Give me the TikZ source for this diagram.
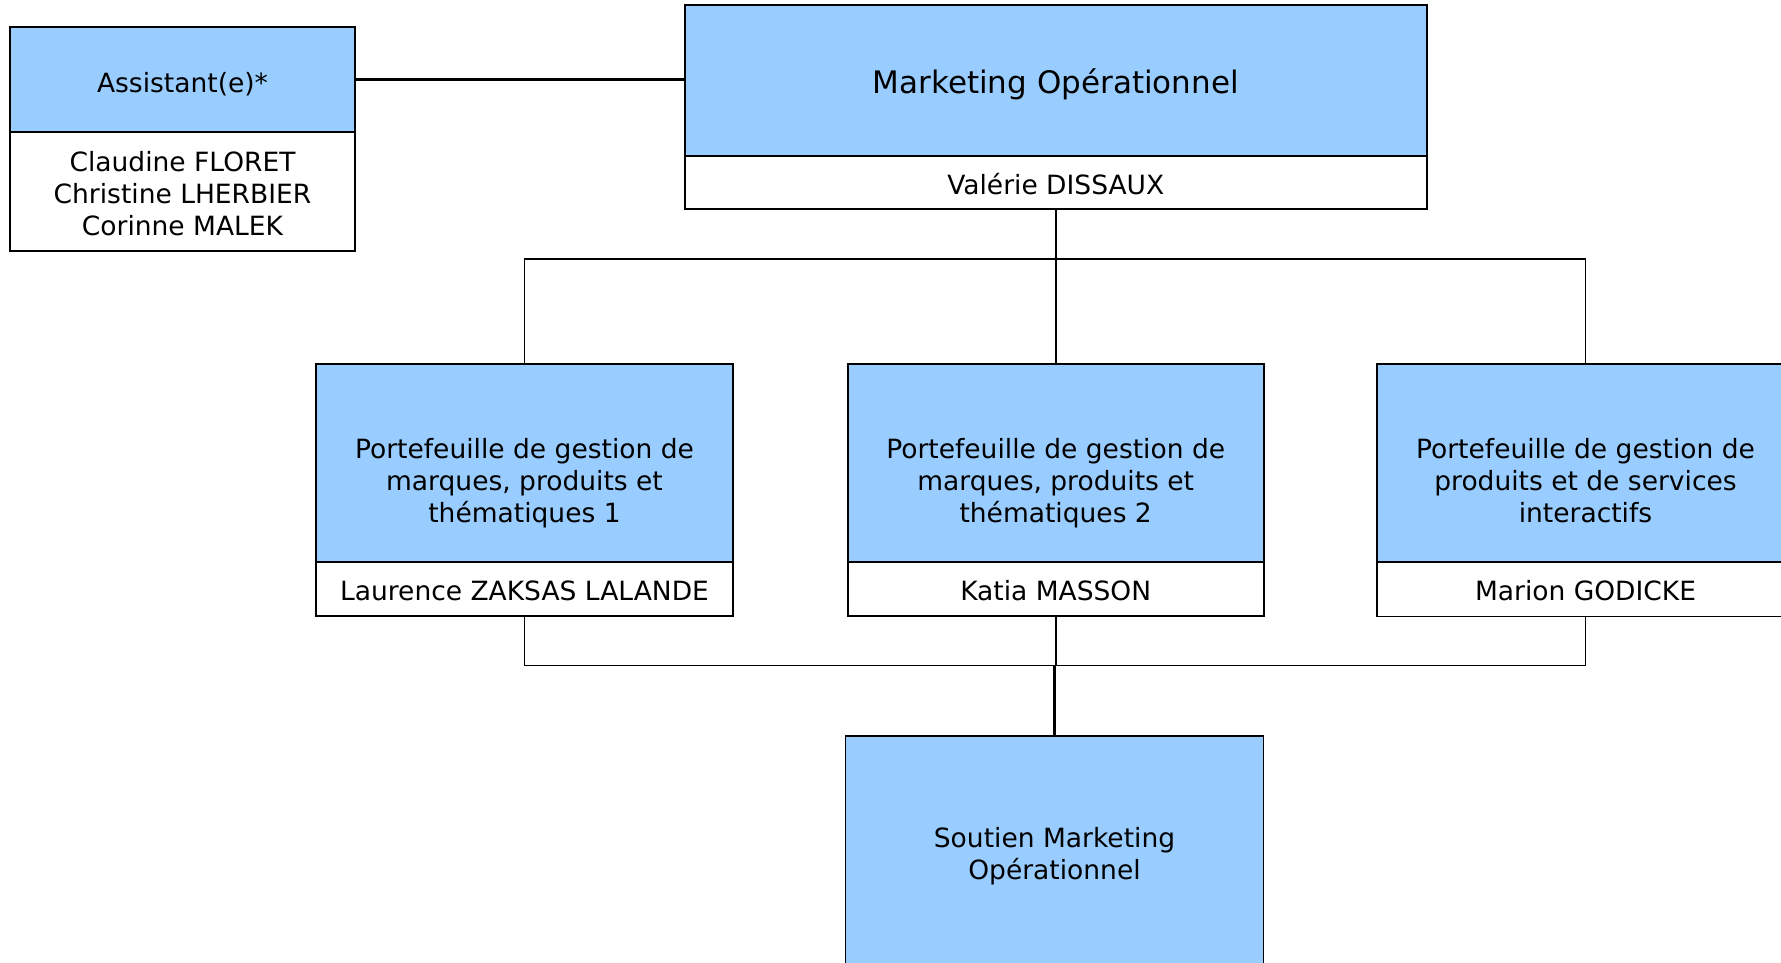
\documentclass[tikz,border=0pt]{standalone}
\usepackage{fontspec}
\setmainfont{DejaVu Sans}
\definecolor{boxblue}{RGB}{153,204,255}
\newcommand\fsnorm{\fontsize{26.5}{32}\selectfont}
\newcommand\fstitle{\fontsize{31}{37}\selectfont}
\begin{document}
\begin{tikzpicture}[x=1pt,y=-1pt,
  box/.style={draw=black, line width=1.9pt, inner sep=0pt},
  bluebox/.style={box, fill=boxblue},
  namebox/.style={box, fill=white},
  txt/.style={inner sep=0pt, align=center, font=\fsnorm},
  conn/.style={draw=black, line width=1.6pt},
  thickconn/.style={draw=black, line width=2.4pt}]
\clip (0,0) rectangle (1781,963);
\fill[white] (0,0) rectangle (1781,963);

% Assistant
\node[bluebox, minimum width=345pt, minimum height=105pt] (at) at (182.5,79.5) {};
\node[txt] (atx) at (182.5,84) {Assistant(e)*};
\node[namebox, minimum width=345pt, minimum height=119pt] (ab) at (182.5,191.5) {};
\node[txt] (abx) at (182.5,194) {Claudine FLORET\\Christine LHERBIER\\Corinne MALEK};

% Marketing
\node[bluebox, minimum width=742pt, minimum height=151pt] (mt) at (1055.75,80.5) {};
\node[txt, font=\fstitle] (mtx) at (1055.75,84) {Marketing Opérationnel};
\node[namebox, minimum width=742pt, minimum height=53pt] (mb) at (1055.75,182.5) {};
\node[txt] (mbx) at (1055.75,184) {Valérie DISSAUX};

% Middle row
\node[bluebox, minimum width=417pt, minimum height=198pt] (p1t) at (524.5,463) {};
\node[txt] (p1x) at (524.5,483.5) {Portefeuille de gestion de\\marques, produits et\\thématiques 1};
\node[namebox, minimum width=417pt, minimum height=54pt] (p1b) at (524.5,589) {};
\node[txt] (p1y) at (524.5,590.5) {Laurence ZAKSAS LALANDE};

\node[bluebox, minimum width=416pt, minimum height=198pt] (p2t) at (1055.7,463) {};
\node[txt] (p2x) at (1055.7,483.5) {Portefeuille de gestion de\\marques, produits et\\thématiques 2};
\node[namebox, minimum width=416pt, minimum height=54pt] (p2b) at (1055.7,589) {};
\node[txt] (p2y) at (1055.7,590.5) {Katia MASSON};

\node[bluebox, minimum width=417pt, minimum height=198pt] (p3t) at (1585.5,463) {};
\node[txt] (p3x) at (1585.5,481) {Portefeuille de gestion de\\produits et de services\\interactifs};
\node[namebox, minimum width=417pt, minimum height=54pt] (p3b) at (1585.5,589.5) {};
\node[txt] (p3y) at (1585.5,591) {Marion GODICKE};

% Soutien
\node[bluebox, minimum width=418pt, minimum height=239pt] (st) at (1054.5,855.5) {};
\node[txt] (stx) at (1054.5,856) {Soutien Marketing\\Opérationnel};

% Connectors
\draw[thickconn] (at.east) -- (at.east -| mt.west);

\coordinate (jt) at (1055.75,259);
\draw[thickconn] (mb.south) -- (jt);
\draw[conn] (p1t.north) -- (p1t.north |- jt) -- (p3t.north |- jt) -- (p3t.north);
\draw[conn] (p2t.north) -- (p2t.north |- jt);

\coordinate (jb) at (1054.5,665.5);
\draw[conn] (p1b.south) -- (p1b.south |- jb) -- (p3b.south |- jb) -- (p3b.south);
\draw[conn] (p2b.south) -- (p2b.south |- jb);
\draw[thickconn] (jb) -- (st.north);
\end{tikzpicture}
\end{document}
